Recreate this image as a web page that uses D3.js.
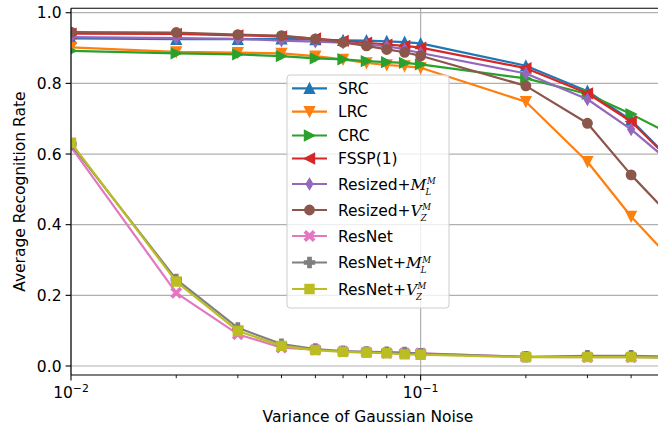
<!DOCTYPE html>
<html><head><meta charset="utf-8">
<script src="https://cdn.jsdelivr.net/npm/d3@7"></script>
<style>body{margin:0;background:#fff}svg{display:block;font-family:"DejaVu Sans",sans-serif}</style>
</head><body><svg id="c" width="658" height="432"></svg>
<script>
const xVals = [0.01,0.02,0.03,0.04,0.05,0.06,0.07,0.08,0.09,0.1,0.2,0.3,0.4,0.5];
const src     = [0.927,0.925,0.925,0.926,0.924,0.922,0.921,0.919,0.917,0.913,0.850,0.778,0.696,0.600];
const lrc     = [0.902,0.889,0.887,0.885,0.877,0.868,0.858,0.852,0.849,0.844,0.748,0.578,0.423,0.320];
const crc     = [0.892,0.885,0.882,0.877,0.871,0.868,0.863,0.860,0.858,0.854,0.814,0.770,0.713,0.664];
const fssp    = [0.941,0.940,0.936,0.933,0.927,0.920,0.915,0.910,0.906,0.901,0.843,0.772,0.692,0.598];
const resizedM= [0.931,0.928,0.926,0.921,0.918,0.915,0.910,0.905,0.896,0.886,0.828,0.755,0.670,0.589];
const resizedV= [0.945,0.944,0.938,0.935,0.926,0.916,0.906,0.896,0.888,0.878,0.793,0.687,0.541,0.440];
const resnet  = [0.620,0.207,0.090,0.052,0.046,0.041,0.039,0.037,0.036,0.036,0.026,0.025,0.025,0.024];
const resnetM = [0.628,0.245,0.108,0.062,0.048,0.042,0.040,0.039,0.038,0.035,0.026,0.029,0.029,0.027];
const resnetV = [0.632,0.239,0.099,0.057,0.045,0.040,0.038,0.036,0.033,0.032,0.025,0.025,0.025,0.023];
const yTicks = [0.0,0.2,0.4,0.6,0.8,1.0];
const xMajor = [0.01,0.1];
const xMinor = [0.02,0.03,0.04,0.05,0.06,0.07,0.08,0.09,0.2,0.3,0.4,0.5];

const series = [
  {name:"SRC", vals:src, color:"#1f77b4", marker:"^"},
  {name:"LRC", vals:lrc, color:"#ff7f0e", marker:"v"},
  {name:"CRC", vals:crc, color:"#2ca02c", marker:">"},
  {name:"FSSP(1)", vals:fssp, color:"#d62728", marker:"<"},
  {name:"Resized+", math:["M","L"], vals:resizedM, color:"#9467bd", marker:"d"},
  {name:"Resized+", math:["V","Z"], vals:resizedV, color:"#8c564b", marker:"o"},
  {name:"ResNet", vals:resnet, color:"#e377c2", marker:"X"},
  {name:"ResNet+", math:["M","L"], vals:resnetM, color:"#7f7f7f", marker:"P"},
  {name:"ResNet+", math:["V","Z"], vals:resnetV, color:"#bcbd22", marker:"s"}
];

const svg = d3.select("#c");
const L=71, R=665, T=8.3, B=375;
const x = d3.scaleLog().domain([0.01,0.5]).range([L,R]);
const y = d3.scaleLinear().domain([-0.0255,1.0125]).range([B,T]);

svg.append("defs").append("clipPath").attr("id","clip").append("rect")
  .attr("x",L).attr("y",T).attr("width",R-L).attr("height",B-T);

// grid
const grid = svg.append("g");
yTicks.forEach(t=>grid.append("line").attr("x1",L).attr("x2",R).attr("y1",y(t)).attr("y2",y(t))
  .attr("stroke","#b0b0b0").attr("stroke-width",1.2));
xMajor.forEach(t=>grid.append("line").attr("x1",x(t)).attr("x2",x(t)).attr("y1",T).attr("y2",B)
  .attr("stroke","#b0b0b0").attr("stroke-width",1.2));

function markerPath(m, s){
  const h=s/2;
  switch(m){
    case "^": return `M0,${-h}L${h},${h}L${-h},${h}Z`;
    case "v": return `M0,${h}L${h},${-h}L${-h},${-h}Z`;
    case ">": return `M${h},0L${-h},${h}L${-h},${-h}Z`;
    case "<": return `M${-h},0L${h},${h}L${h},${-h}Z`;
    case "d": return `M0,${-h}L${h*0.6},0L0,${h}L${-h*0.6},0Z`;
    case "o": return `M${h},0A${h},${h} 0 1,1 ${-h},0A${h},${h} 0 1,1 ${h},0Z`;
    case "s": return `M${-h},${-h}H${h}V${h}H${-h}Z`;
    case "P": { const a=h, b=h/3; return `M${-b},${-a}H${b}V${-b}H${a}V${b}H${b}V${a}H${-b}V${b}H${-a}V${-b}H${-b}Z`; }
    case "X": { const a=h, b=h/3; 
      const pts=[[0,-b],[a-b,-a],[a,-a+b],[b,0],[a,a-b],[a-b,a],[0,b],[-a+b,a],[-a,a-b],[-b,0],[-a,-a+b],[-a+b,-a]];
      return "M"+pts.map(p=>p.join(",")).join("L")+"Z"; }
  }
}
const msz = {"^":10,"v":10,">":10,"<":10,"d":11,"o":9.5,"s":9,"P":10,"X":10};

const plot = svg.append("g").attr("clip-path","url(#clip)");
const line = d3.line().x((d,i)=>x(xVals[i])).y(d=>y(d));
series.forEach(s=>{
  const g = plot.append("g");
  g.append("path").attr("d",line(s.vals)).attr("fill","none").attr("stroke",s.color)
    .attr("stroke-width",2.2).attr("stroke-linejoin","round");
  g.selectAll("path.m").data(s.vals).enter().append("path").attr("class","m")
    .attr("transform",(d,i)=>`translate(${x(xVals[i])},${y(d)})`)
    .attr("d",markerPath(s.marker,msz[s.marker])).attr("fill",s.color)
    .attr("stroke",s.color).attr("stroke-width",1.4).attr("stroke-linejoin","miter");
});

// spines
svg.append("line").attr("x1",L).attr("x2",L).attr("y1",T).attr("y2",B).attr("stroke","#000").attr("stroke-width",1.1);
svg.append("line").attr("x1",L).attr("x2",R).attr("y1",B).attr("y2",B).attr("stroke","#000").attr("stroke-width",1.1);
svg.append("line").attr("x1",L).attr("x2",R).attr("y1",T).attr("y2",T).attr("stroke","#000").attr("stroke-width",1.1);
svg.append("line").attr("x1",R).attr("x2",R).attr("y1",T).attr("y2",B).attr("stroke","#000").attr("stroke-width",1.1);

const FS = 15.5;
// y ticks
yTicks.forEach(t=>{
  svg.append("line").attr("x1",L-5.4).attr("x2",L).attr("y1",y(t)).attr("y2",y(t)).attr("stroke","#000").attr("stroke-width",1.1);
  svg.append("text").attr("x",L-9.5).attr("y",y(t)).attr("dy","0.36em").attr("text-anchor","end")
    .attr("font-size",FS).attr("fill","#000").text(d3.format(".1f")(t));
});
// x ticks
xMajor.forEach(t=>{
  svg.append("line").attr("x1",x(t)).attr("x2",x(t)).attr("y1",B).attr("y2",B+5.4).attr("stroke","#000").attr("stroke-width",1.1);
  const exp = Math.round(Math.log10(t));
  const tx = svg.append("text").attr("x",x(t)).attr("y",B+23).attr("text-anchor","middle").attr("font-size",FS).attr("fill","#000");
  tx.append("tspan").text("10");
  tx.append("tspan").attr("font-size",FS*0.7).attr("dy",-6.5).text("\u2212"+Math.abs(exp));
});
xMinor.forEach(t=>{
  svg.append("line").attr("x1",x(t)).attr("x2",x(t)).attr("y1",B).attr("y2",B+3.2).attr("stroke","#000").attr("stroke-width",0.9);
});

// axis labels
svg.append("text").attr("x",(L+R)/2).attr("y",422).attr("text-anchor","middle").attr("font-size",FS).attr("fill","#000")
  .text("Variance of Gaussian Noise");
svg.append("text").attr("transform",`translate(25,${(T+B)/2}) rotate(-90)`).attr("text-anchor","middle")
  .attr("font-size",FS).attr("fill","#000").text("Average Recognition Rate");

// legend
const lg = svg.append("g");
lg.append("rect").attr("x",287).attr("y",75).attr("width",162).attr("height",233).attr("rx",3)
  .attr("fill","#fff").attr("fill-opacity",0.8).attr("stroke","#cccccc").attr("stroke-width",1);
const rowY = [88.3,111.7,135.5,158.5,184,210,236,262.5,289];
series.forEach((s,i)=>{
  const cy = rowY[i];
  lg.append("line").attr("x1",292).attr("x2",327).attr("y1",cy).attr("y2",cy).attr("stroke",s.color).attr("stroke-width",2.2);
  lg.append("path").attr("transform",`translate(309.5,${cy})`).attr("d",markerPath(s.marker,msz[s.marker]))
    .attr("fill",s.color).attr("stroke",s.color).attr("stroke-width",1.4);
  const t = lg.append("text").attr("x",338).attr("y",cy+5.7).attr("font-size",FS).attr("fill","#000");
  t.append("tspan").text(s.name);
  if(s.math){
    t.append("tspan").attr("font-family","DejaVu Serif").attr("font-style","italic").text(s.math[0]);
    const w = t.node().getComputedTextLength();
    lg.append("text").attr("x",338+w+0.5).attr("y",cy+0.3).attr("font-size",8.5).attr("font-family","DejaVu Serif")
      .attr("font-style","italic").attr("fill","#000").text("M");
    lg.append("text").attr("x",338+w-1).attr("y",cy+10.6).attr("font-size",8.5).attr("font-family","DejaVu Serif")
      .attr("font-style","italic").attr("fill","#000").text(s.math[1]);
  }
});
</script></body></html>
